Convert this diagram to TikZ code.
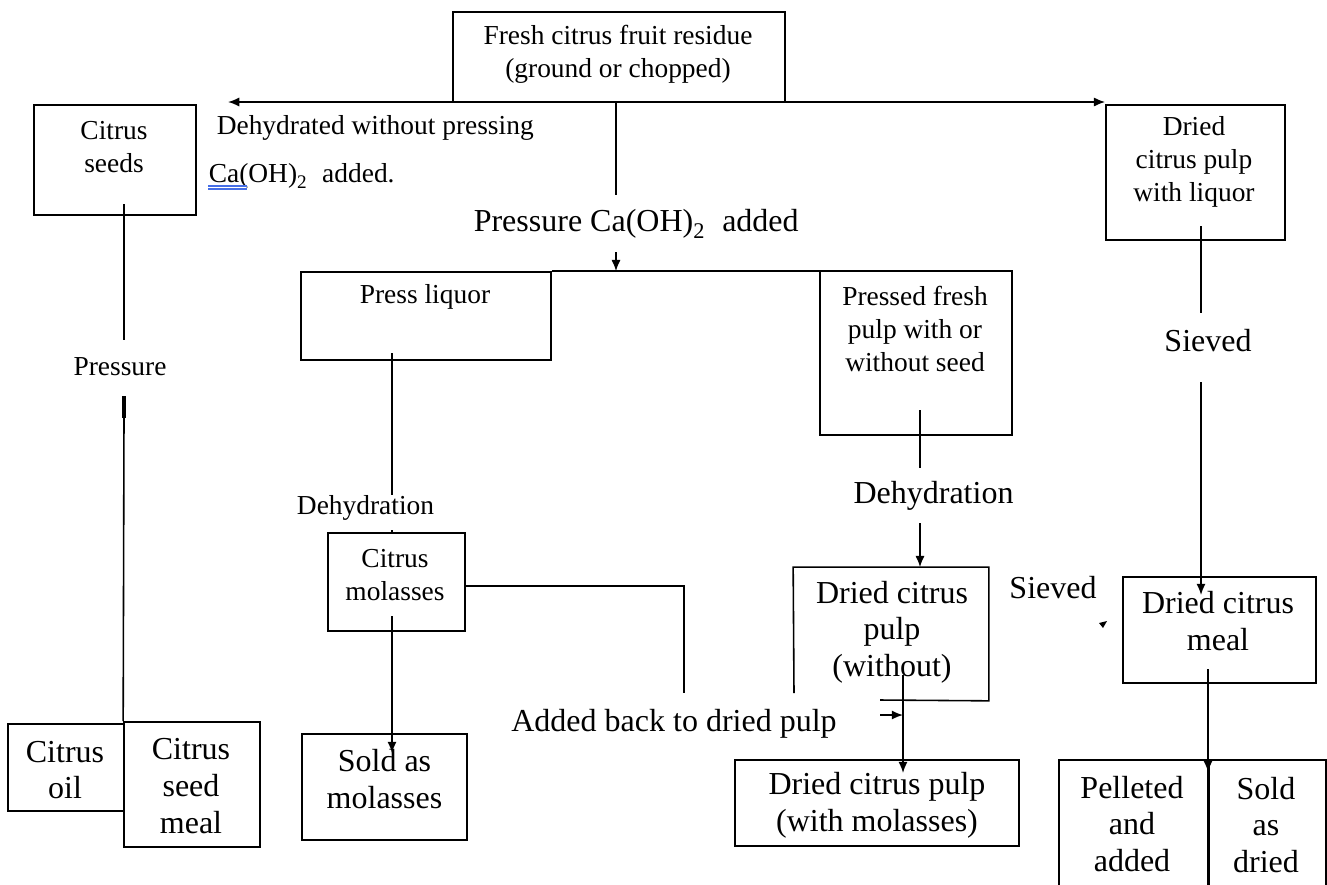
\documentclass[tikz,border=0pt]{standalone}
\usepackage{fontspec}
\setmainfont{Liberation Serif}
\usepackage{tikz}
\usetikzlibrary{positioning}
\usetikzlibrary{arrows.meta}
\definecolor{spellblue}{RGB}{70,110,230}
\newcommand{\lowtwo}{\raisebox{-0.25ex}{\textsubscript{2}}}
\tikzset{box/.style={draw, rectangle, inner sep=0pt}}
\tikzset{sm/.style={font=\fontsize{7.8}{9.3}\selectfont, align=center, inner sep=0pt}}
\tikzset{bg/.style={font=\fontsize{9.1}{10.4}\selectfont, align=center, inner sep=0pt}}
\tikzset{arr/.style={-{Latex[length=3.2pt,width=2.6pt]}}}

\begin{document}
\begin{tikzpicture}[x=0.01cm, y=-0.01cm, line width=0.45pt]
\clip (0,0) rectangle (1327,884);
% boxes
\node[box, minimum width=3.32cm, minimum height=0.90cm] (fresh) at (619,57) {};
\node[box, minimum width=1.62cm, minimum height=1.10cm] (seeds) at (115,160) {};
\node[box, minimum width=1.79cm, minimum height=1.35cm] (liquor) at (1195.5,172.5) {};
\node[box, minimum width=2.50cm, minimum height=0.88cm] (pliquor) at (426,316) {};
\node[box, minimum width=1.92cm, minimum height=1.64cm] (pressed) at (916,353) {};
\node[box, minimum width=1.37cm, minimum height=0.98cm] (molasses) at (396.5,582) {};
\node[minimum width=1.94cm, minimum height=1.32cm, inner sep=0pt] (dried) at (891,634) {};
\node[box, minimum width=1.93cm, minimum height=1.06cm] (meal) at (1219.5,630) {};
\node[box, minimum width=1.16cm, minimum height=0.87cm] (oil) at (66,767.5) {};
\node[box, minimum width=1.36cm, minimum height=1.25cm] (seedmeal) at (192,784.5) {};
\node[box, minimum width=1.65cm, minimum height=1.06cm] (soldmol) at (384.5,787) {};
\node[box, minimum width=2.84cm, minimum height=0.86cm] (driedmol) at (877,803) {};
\node[box, minimum width=1.49cm, minimum height=1.40cm] (pellet) at (1133.5,830) {};
\node[box, minimum width=1.18cm, minimum height=1.40cm] (solddry) at (1267,830) {};
\draw (880,700) -- (dried.south east) -- (dried.north east) -- (dried.north west) -- (794,693);

% box texts
\node[sm] (freshT) at (618,54) {Fresh citrus fruit residue\\(ground or chopped)};
\node[sm] (seedsT) at (114,147) {Citrus\\seeds};
\node[sm] (liquorT) at (1194,162) {Dried\\citrus pulp\\with liquor};
\node[sm] (pliquorT) at (425,297) {Press liquor};
\node[sm] (pressedT) at (915,329) {Pressed fresh\\pulp with or\\without seed};
\node[sm] (molassesT) at (395,575) {Citrus\\molasses};
\node[bg] (driedT) at (892,632) {Dried citrus\\pulp\\(without)};
\node[bg] (mealT) at (1218,621) {Dried citrus\\meal};
\node[bg] (oilT) at (65,770) {Citrus\\oil};
\node[bg] (seedmealT) at (191,786) {Citrus\\seed\\meal};
\node[bg] (soldmolT) at (384.5,779) {Sold as\\molasses};
\node[bg] (driedmolT) at (877,805) {Dried citrus pulp\\(with molasses)};
\node[bg] (pelletT) at (1132,824) {Pelleted\\and\\added};
\node[bg] (solddryT) at (1266,825) {Sold\\as\\dried};

% step labels
\node[sm, anchor=west] (dehydA) at (216,128) {Dehydrated without pressing};
\node[sm, anchor=west] (caohA) at (208,176) {Ca(OH)\lowtwo\enspace{}added.};
\node[bg, anchor=west] (pcaoh) at (473,224) {Pressure Ca(OH)\lowtwo\enspace{}added};
\node[sm] (pres) at (120,367) {Pressure};
\node[sm] (dehydB) at (365.5,508) {Dehydration};
\node[bg] (dehydC) at (933.5,496) {Dehydration};
\node[bg] (sieveA) at (1208,341) {Sieved};
\node[bg] (sieveB) at (1053,588) {Sieved};
\node[bg] (addback) at (674,724) {Added back to dried pulp};
\draw[spellblue, line width=0.3pt] (208,186) -- (247,186);
\draw[spellblue, line width=0.3pt] (208,189) -- (247,189);

% top split
\coordinate (tipL) at (228,102);
\draw[{Latex[length=3.2pt,width=2.6pt]}-{Latex[length=3.2pt,width=2.6pt]}] (tipL) -- (liquor.west |- tipL);
\coordinate (c1) at (616,195);
\draw (fresh.south -| c1) -- (c1);
\coordinate (c2) at (616,252);
\draw[arr] (c2) -- (c2 |- pliquor.north);
\draw (pliquor.north east) -- (pressed.north west |- pliquor.north east);

% seeds branch
\coordinate (s1) at (124,204);
\coordinate (s2) at (124,340);
\coordinate (s3) at (124,396);
\coordinate (s4) at (124,418);
\draw (s1) -- (s2);
\draw[line width=1pt] (s3) -- (s4);
\draw (s4) -- (seedmeal.north west);

% press liquor branch
\coordinate (l1) at (392,353);
\coordinate (l2) at (392,495);
\coordinate (l3) at (392,530);
\draw (l1) -- (l2);
\draw (l3) -- (l3 |- molasses.north);
\coordinate (m1) at (392,616);
\coordinate (m2) at (392,753);
\draw[arr] (m1) -- (m2);
\coordinate (m3) at (465,586);
\coordinate (m4) at (684,693);
\draw (m3) -| (m4);

% pressed pulp branch
\coordinate (q1) at (920,410);
\coordinate (q2) at (920,468);
\coordinate (q3) at (920,523);
\draw (q1) -- (q2);
\draw[arr] (q3) -- (q3 |- dried.north);
\coordinate (q4) at (903,675);
\coordinate (q5) at (903,773);
\draw[arr] (q4) -- (q5);
\coordinate (q6) at (880,715);
\draw[arr] (q6) -- (q6 -| q4);

% liquor branch
\coordinate (r1) at (1201,226);
\coordinate (r2) at (1201,313);
\coordinate (r3) at (1201,382);
\coordinate (r4) at (1201,595);
\draw (r1) -- (r2);
\draw[arr] (r3) -- (r4);
\coordinate (r5) at (1208,669);
\coordinate (r6) at (1208,772);
\draw[arr] (r5) -- (r6);
\draw[line width=0.9pt] (pellet.north east) -- (pellet.south east);
\fill (1099,623) -- (1107,621) -- (1103,628) -- cycle;
\end{tikzpicture}
\end{document}
